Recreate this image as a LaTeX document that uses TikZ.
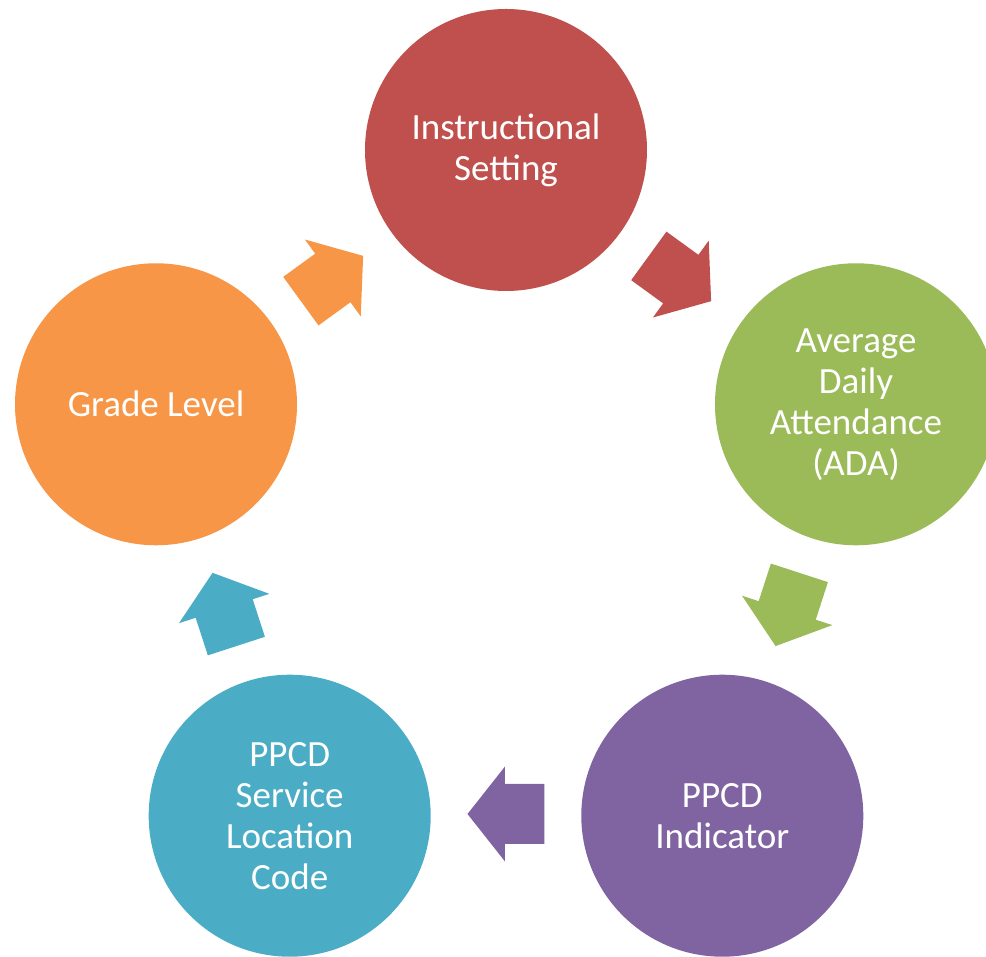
\documentclass[tikz,border=0pt]{standalone}
\usepackage{fontspec}
\setmainfont{Carlito}
\definecolor{cred}{HTML}{C0504D}
\definecolor{cgreen}{HTML}{9BBB59}
\definecolor{cpurple}{HTML}{8064A2}
\definecolor{cteal}{HTML}{4BACC6}
\definecolor{corange}{HTML}{F79646}
\tikzset{
  stage/.style={circle, fill=#1, draw=none, minimum size=282pt, inner sep=0pt,
    text=white, align=center, font=\fontsize{37}{41}\selectfont},
  blockarrow/.style={fill=#1, draw=none}
}
\newcommand{\cycarrow}[3]{%
  \begin{scope}[shift={(#1:296pt)}, rotate=#1-90]
    \fill[blockarrow=#2] (-38.5pt,-30pt) -- (1pt,-30pt) -- (1pt,-47.5pt) -- (38.5pt,0pt)
      -- (1pt,47.5pt) -- (1pt,30pt) -- (-38.5pt,30pt) -- cycle;
    \coordinate (#3) at (0,0);
  \end{scope}}
\begin{document}
\begin{tikzpicture}
\useasboundingbox (-506pt,-439pt) rectangle (480pt,518pt);
\clip (-506pt,-439pt) rectangle (480pt,518pt);
\node[stage=cred]    (inst) at (90:368pt)   {Instructional\\Setting};
\node[stage=cgreen]  (ada)  at (18:368pt)   {Average\\Daily\\Attendance\\(ADA)};
\node[stage=cpurple] (ind)  at (-54:368pt)  {PPCD\\Indicator};
\node[stage=cteal]   (loc)  at (-126:368pt) {PPCD\\Service\\Location\\Code};
\node[stage=corange] (grade) at (162:368pt) {Grade Level};
\cycarrow{54}{cred}{a1}
\cycarrow{-18}{cgreen}{a2}
\cycarrow{-90}{cpurple}{a3}
\cycarrow{-162}{cteal}{a4}
\cycarrow{126}{corange}{a5}
\end{tikzpicture}
\end{document}
